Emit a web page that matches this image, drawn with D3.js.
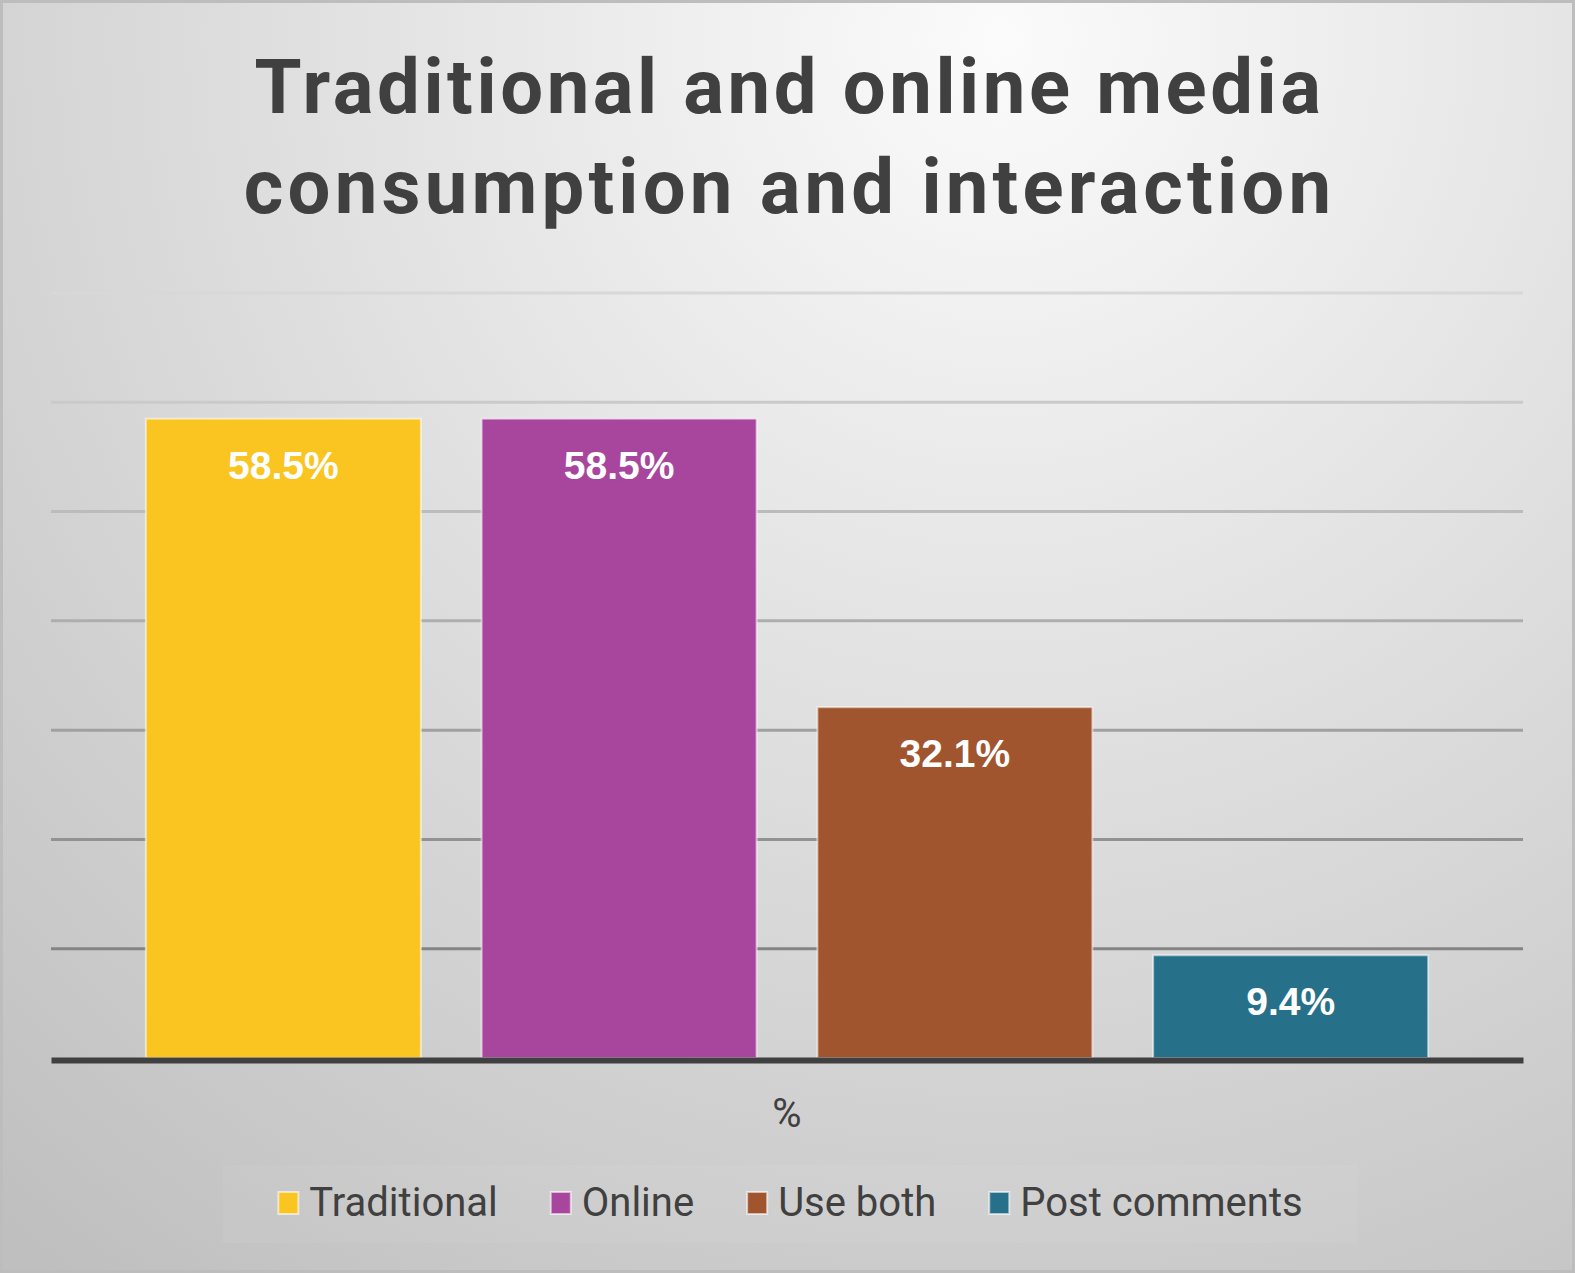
<!DOCTYPE html>
<html>
<head>
<meta charset="utf-8">
<script src="https://cdn.jsdelivr.net/npm/d3@7"></script>
<style>
body { margin: 0; overflow: hidden; }
svg { display: block; }
</style>
</head>
<body>
<svg width="1575" height="1273"></svg>
<script>
// chart data
var categories = ["%"];
var series = ["Traditional", "Online", "Use both", "Post comments"];
var values = [58.5, 58.5, 32.1, 9.4];
var colors = ["#fac421", "#a8469d", "#a1552f", "#26708a"];
var yTicks = [0, 10, 20, 30, 40, 50, 60, 70];
var titleLines = ["Traditional and online media", "consumption and interaction"];

var svg = d3.select("svg"),
    width = +svg.attr("width"),
    height = +svg.attr("height");

var margin = {top: 293, right: 52, bottom: 215, left: 51};

var defs = svg.append("defs");
var bg = defs.append("radialGradient")
    .attr("id", "bg")
    .attr("gradientUnits", "userSpaceOnUse")
    .attr("cx", 1000).attr("cy", 40).attr("r", 1550);
bg.append("stop").attr("offset", 0).attr("stop-color", "#fbfbfb");
bg.append("stop").attr("offset", 1).attr("stop-color", "#bfbfbf");

svg.append("rect")
    .attr("width", width).attr("height", height)
    .attr("fill", "url(#bg)")
    .attr("stroke", "#bdbdbd")
    .attr("stroke-width", 6);

// title
svg.append("g")
    .selectAll("text")
    .data(titleLines)
    .enter().append("text")
    .attr("x", width / 2 + 2)
    .attr("y", function (d, i) { return 113 + i * 100; })
    .attr("text-anchor", "middle")
    .attr("font-family", "Roboto, sans-serif")
    .attr("font-weight", "bold")
    .attr("font-size", 76)
    .attr("letter-spacing", function (d, i) { return i ? 4.2 : 3.6; })
    .attr("fill", "#404040")
    .text(function (d) { return d; });

var x0 = d3.scaleBand()
    .domain(categories)
    .range([margin.left, width - margin.right])
    .padding(0.0458);

var x1 = d3.scaleBand()
    .domain(series)
    .range([0, x0.bandwidth()])
    .paddingInner(0.181)
    .paddingOuter(0.0905);

var y = d3.scaleLinear()
    .domain([0, 70])
    .range([height - margin.bottom, margin.top]);

var gridColor = d3.scaleLinear()
    .domain([margin.top, height - margin.bottom])
    .range(["#d8d8d8", "#767676"]);

// gridlines
svg.append("g")
    .attr("class", "grid")
    .selectAll("line")
    .data(yTicks.slice(1))
    .enter().append("line")
    .attr("x1", margin.left)
    .attr("x2", width - margin.right)
    .attr("y1", function (d) { return y(d); })
    .attr("y2", function (d) { return y(d); })
    .attr("stroke", function (d) { return gridColor(y(d)); })
    .attr("stroke-width", 3);

var rows = series.map(function (s, i) {
    return {cat: categories[0], name: s, value: values[i], color: colors[i]};
});

var bars = svg.append("g").attr("class", "bars");

bars.selectAll("rect")
    .data(rows)
    .enter().append("rect")
    .attr("x", function (d) { return x0(d.cat) + x1(d.name); })
    .attr("y", function (d) { return y(d.value); })
    .attr("width", x1.bandwidth())
    .attr("height", function (d) { return y(0) - y(d.value); })
    .attr("fill", function (d) { return d.color; })
    .attr("stroke", "rgba(255,255,255,0.55)")
    .attr("stroke-width", 2);

bars.selectAll("text")
    .data(rows)
    .enter().append("text")
    .attr("x", function (d) { return x0(d.cat) + x1(d.name) + x1.bandwidth() / 2; })
    .attr("y", function (d) { return y(d.value) + 60; })
    .attr("text-anchor", "middle")
    .attr("font-family", "'Liberation Sans', Arial, sans-serif")
    .attr("font-weight", "bold")
    .attr("font-size", 39)
    .attr("fill", "#ffffff")
    .text(function (d) { return d.value.toFixed(1) + "%"; });

// x axis
var xAxis = svg.append("g")
    .attr("transform", "translate(0," + (y(0) + 2) + ")")
    .call(d3.axisBottom(x0).tickSize(0).tickPadding(39));

xAxis.select(".domain")
    .attr("stroke", "#404040")
    .attr("stroke-width", 6);

xAxis.selectAll("text")
    .attr("font-family", "Roboto, sans-serif")
    .attr("font-size", 40)
    .attr("fill", "#404040");

// legend
var legend = svg.append("g").attr("class", "legend");

legend.append("rect")
    .attr("x", 223).attr("y", 1165)
    .attr("width", 1135).attr("height", 78)
    .attr("fill", "#ffffff")
    .attr("opacity", 0.05);

var items = legend.selectAll("g.item")
    .data(rows)
    .enter().append("g")
    .attr("class", "item");

items.append("rect")
    .attr("width", 20)
    .attr("height", 22)
    .attr("y", 1192)
    .attr("fill", function (d) { return d.color; })
    .attr("stroke", "rgba(255,255,255,0.6)")
    .attr("stroke-width", 2);

items.append("text")
    .attr("x", 31)
    .attr("y", 1216)
    .attr("font-family", "Roboto, sans-serif")
    .attr("font-size", 40)
    .attr("fill", "#404040")
    .text(function (d) { return d.name; });

var widths = [];
items.each(function () {
    widths.push(31 + d3.select(this).select("text").node().getComputedTextLength());
});
var gap = 53;
var total = d3.sum(widths) + gap * (widths.length - 1);
var pos = width / 2 + 3 - total / 2;
items.attr("transform", function (d, i) {
    var t = "translate(" + pos + ",0)";
    pos += widths[i] + gap;
    return t;
});
</script>
</body>
</html>
